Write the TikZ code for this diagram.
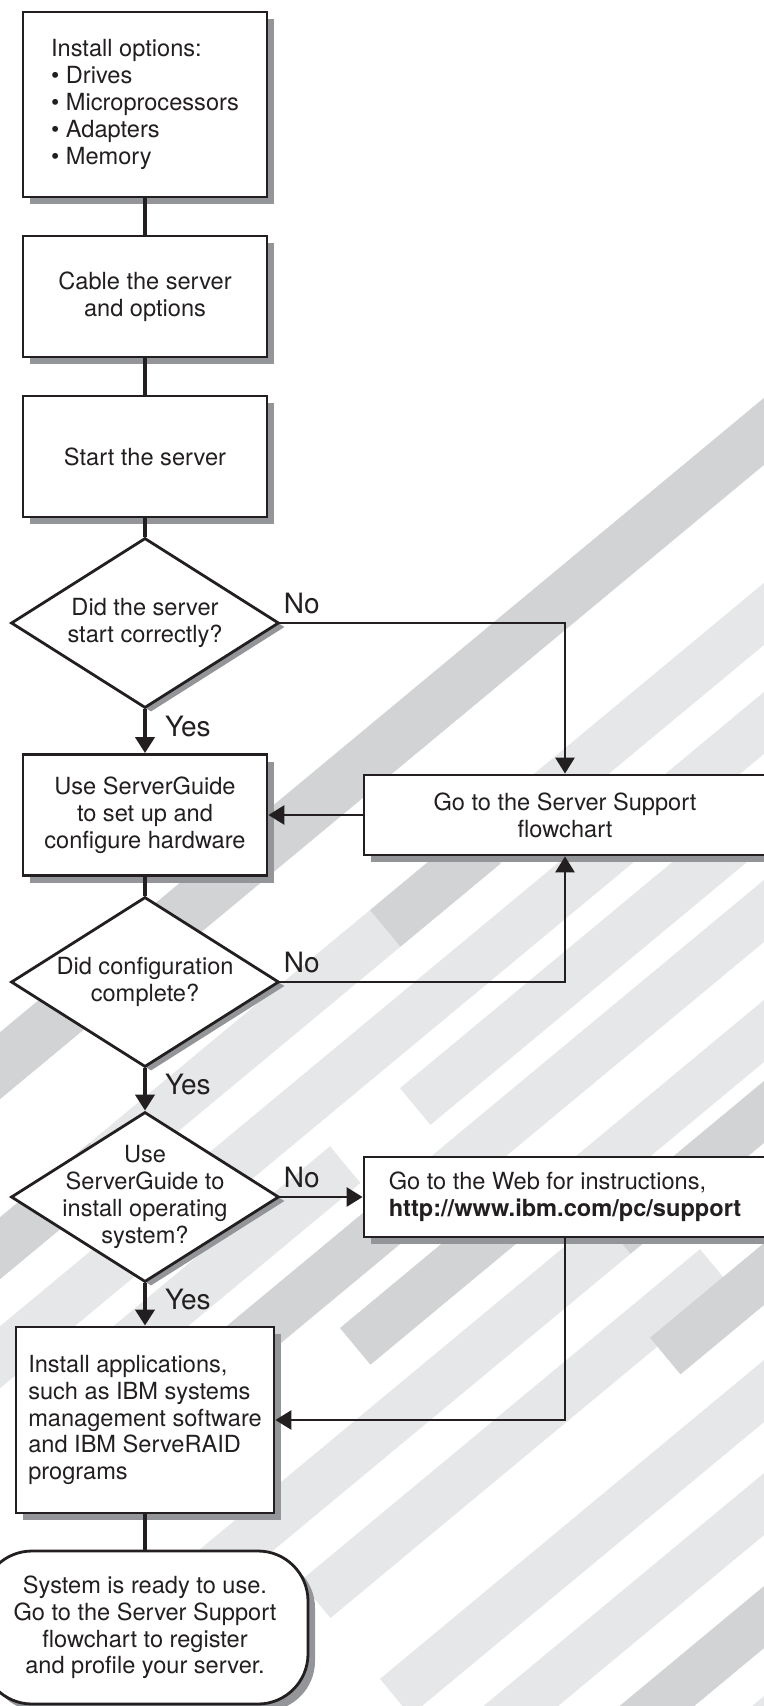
\documentclass[tikz,border=0pt]{standalone}
\usepackage{fontspec}
\setmainfont{TeX Gyre Heros}
\usetikzlibrary{shapes.geometric, arrows.meta, shadows}

\definecolor{ink}{RGB}{35,31,32}
\definecolor{shade}{RGB}{147,149,152}
\definecolor{stripedark}{RGB}{209,211,212}
\definecolor{stripelight}{RGB}{230,231,232}

\tikzset{
    stepbox/.style={draw=ink, line width=1.4pt, fill=white, minimum width=122pt, inner sep=0pt, align=center,
        drop shadow={shadow xshift=3.5pt, shadow yshift=-3.5pt, opacity=1, fill=shade}},
    decision/.style={draw=ink, line width=1.4pt, fill=white, shape=diamond, minimum width=134pt, minimum height=85pt, inner sep=0pt,
        drop shadow={shadow xshift=3pt, shadow yshift=-2pt, opacity=1, fill=shade}},
    qtext/.style={align=center, inner sep=0pt},
    trunk/.style={draw=ink, line width=2pt},
    flow/.style={draw=ink, line width=2pt, -{Triangle[length=8pt, width=9.5pt]}},
    side/.style={draw=ink, line width=1.4pt, -{Triangle[length=8pt, width=9.5pt]}},
    yeslab/.style={font=\fontsize{14}{16}\selectfont, inner sep=0pt, right=9pt, yshift=2.5pt},
    nolab/.style={font=\fontsize{14}{16}\selectfont, inner sep=0pt, anchor=south west, xshift=1pt, yshift=4pt},
}

\begin{document}
\begin{tikzpicture}[x=0.5pt, y=-0.5pt, font=\fontsize{11.8}{13.4}\selectfont, color=ink]
        \useasboundingbox (0, 0) rectangle (764, 1706);
        \clip (0, 0) rectangle (764, 1706);

        \begin{scope}[x={(0.3847pt, 0.3194pt)}, y={(0.3194pt, -0.3847pt)}]
            \foreach \c/\t/\xa/\xb/\col in {1032/67/-300/900/stripedark, 1217/62/-300/90/stripedark,
                1217/62/90/370/stripelight, 1217/62/370/470/stripedark, 1217/62/470/900/stripelight,
                1326/62/-300/900/stripelight, 1420/62/60/330/stripelight, 1420/62/400/900/stripelight,
                1514/62/150/420/stripedark, 1514/62/420/900/stripelight, 1610/62/340/520/stripedark,
                1634/62/560/900/stripelight, 1715/62/150/600/stripelight, 1715/62/600/900/stripedark,
                1830/62/300/700/stripelight, 1877/62/650/900/stripedark, 1994/62/-300/200/stripelight,
                1994/62/380/900/stripelight, 2107/62/250/900/stripelight, 2220/62/100/500/stripelight,
                2220/62/500/900/stripedark, 2330/62/300/900/stripelight} {
                \pgfmathsetmacro\va{\c*0.7695}
                \pgfmathsetmacro\vb{(\c+\t)*0.7695}
                \pgfmathsetmacro\ua{(\xa-0.6388*\va)/0.7694}
                \pgfmathsetmacro\ub{(\xb-0.6388*\va)/0.7694}
                \fill[\col] (\ua, \va) -- (\ub, \va) -- (\ub, \vb) -- (\ua, \vb) -- cycle;
            }
        \end{scope}

        \node[stepbox, minimum height=92.5pt, align=left] (opts) at (145, 104.5) {Install options:\\\textbullet\ Drives\\\textbullet\ Microprocessors\\\textbullet\ Adapters\\\textbullet\ Memory};
        \node[stepbox, minimum height=60.5pt] (cable) at (145, 296.5) {Cable the server\\and options};
        \node[stepbox, minimum height=60.5pt] (start) at (145, 456.5) {Start the server};
        \node[decision, label={[qtext]center:Did the server\\start correctly?}] (q1) at (145, 623) {};
        \node[stepbox, minimum height=60.5pt] (guide) at (145, 815) {Use ServerGuide\\to set up and\\configure hardware};
        \node[stepbox, minimum width=201pt, minimum height=40pt] (support) at (565, 815) {Go to the Server Support\\flowchart};
        \node[decision, label={[qtext]center:Did configuration\\complete?}] (q2) at (145, 982) {};
        \node[decision, label={[qtext]center:Use\\ServerGuide to\\install operating\\system?}] (q3) at (145, 1197) {};
        \node[stepbox, minimum width=201pt, minimum height=40pt, align=left] (web) at (565, 1197) {Go to the Web for instructions,\\\textbf{http://www.ibm.com/pc/support}};
        \node[stepbox, minimum width=129pt, minimum height=93pt, align=left] (apps) at (145, 1420) {Install applications,\\such as IBM systems\\management software\\and IBM ServeRAID\\programs};
        \node[stepbox, minimum width=163pt, minimum height=76.5pt, rounded corners=25pt] (ready) at (145, 1627.5) {System is ready to use.\\Go to the Server Support\\flowchart to register\\and profile your server.};

        \draw[trunk] (opts) -- (cable);
        \draw[trunk] (cable) -- (start);
        \draw[trunk] (start) -- (q1);
        \draw[flow] (q1) -- node[yeslab] {Yes} (guide);
        \draw[side] (q1.east) node[nolab] {No} -| (support.north);
        \draw[side] (support) -- (guide);
        \draw[trunk] (guide) -- (q2);
        \draw[side] (q2.east) node[nolab] {No} -| (support.south);
        \draw[flow] (q2) -- node[yeslab] {Yes} (q3);
        \draw[side] (q3.east) node[nolab] {No} -- (web);
        \draw[flow] (q3) -- node[yeslab] {Yes} (apps);
        \draw[side] (web.south) |- (apps.east);
        \draw[trunk] (apps) -- (ready);
\end{tikzpicture}
\end{document}
